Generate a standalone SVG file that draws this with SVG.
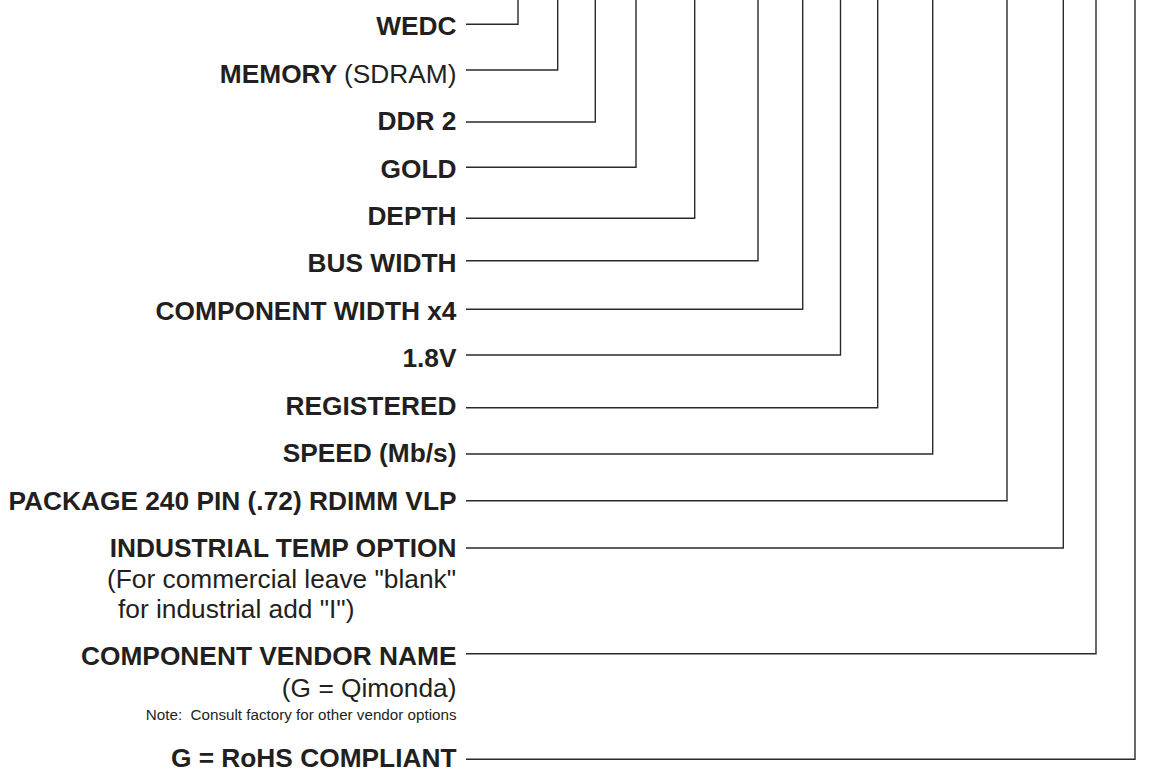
<svg xmlns="http://www.w3.org/2000/svg" width="1156" height="774" viewBox="0 0 1156 774">
<style>
.b{font-family:"Liberation Sans",Arial,sans-serif;font-weight:bold;font-size:26.3px;fill:#231f20}
.r{font-family:"Liberation Sans",Arial,sans-serif;font-weight:normal;font-size:26.3px;fill:#231f20}
.n{font-family:"Liberation Sans",Arial,sans-serif;font-weight:normal;font-size:15.2px;fill:#231f20}
.c path{fill:none;stroke:#2a2a2a;stroke-width:1.4}
</style>
<rect width="1156" height="774" fill="#ffffff"/>
<g id="connectors" class="c">
<path d="M466 24.3 H518 V0"/>
<path d="M466 70 H557.7 V0"/>
<path d="M466 122 H595.3 V0"/>
<path d="M466 167.3 H636 V0"/>
<path d="M466 218.3 H694.7 V0"/>
<path d="M466 260.7 H758 V0"/>
<path d="M466 309.3 H802.7 V0"/>
<path d="M466 355 H840.5 V0"/>
<path d="M466 407.7 H877.7 V0"/>
<path d="M466 454 H932.7 V0"/>
<path d="M466 500.7 H1007 V0"/>
<path d="M466 548 H1063.3 V0"/>
<path d="M466 653.7 H1096 V0"/>
<path d="M466 759.3 H1135 V0"/>
</g>
<g id="n-wedc"><text class="b" x="456.5" y="35" text-anchor="end">WEDC</text></g>
<g id="n-memory"><text class="b" x="456.5" y="82.7" text-anchor="end">MEMORY <tspan class="r">(SDRAM)</tspan></text></g>
<g id="n-ddr2"><text class="b" x="456.5" y="130" text-anchor="end">DDR 2</text></g>
<g id="n-gold"><text class="b" x="456.5" y="178.3" text-anchor="end">GOLD</text></g>
<g id="n-depth"><text class="b" x="456.5" y="225" text-anchor="end">DEPTH</text></g>
<g id="n-buswidth"><text class="b" x="456.5" y="271.7" text-anchor="end">BUS WIDTH</text></g>
<g id="n-compwidth"><text class="b" x="456.5" y="320" text-anchor="end">COMPONENT WIDTH x4</text></g>
<g id="n-voltage"><text class="b" x="456.5" y="366.7" text-anchor="end">1.8V</text></g>
<g id="n-registered"><text class="b" x="456.5" y="415" text-anchor="end">REGISTERED</text></g>
<g id="n-speed"><text class="b" x="456.5" y="461.7" text-anchor="end">SPEED (Mb/s)</text></g>
<g id="n-package"><text class="b" x="456.5" y="510" text-anchor="end">PACKAGE 240 PIN (.72) RDIMM VLP</text></g>
<g id="n-industrial">
<text class="b" x="456.5" y="556.7" text-anchor="end">INDUSTRIAL TEMP OPTION</text>
<text class="r" x="456" y="588.3" text-anchor="end">(For commercial leave "blank"</text>
<text class="r" x="118" y="618.3">for industrial add "I")</text>
</g>
<g id="n-vendor">
<text class="b" x="456.5" y="665" text-anchor="end">COMPONENT VENDOR NAME</text>
<text class="r" x="456.5" y="696.7" text-anchor="end">(G = Qimonda)</text>
<text class="n" x="456.5" y="720" text-anchor="end">Note:&#160; Consult factory for other vendor options</text>
</g>
<g id="n-rohs"><text class="b" x="456.5" y="766.7" text-anchor="end">G = RoHS COMPLIANT</text></g>
</svg>
